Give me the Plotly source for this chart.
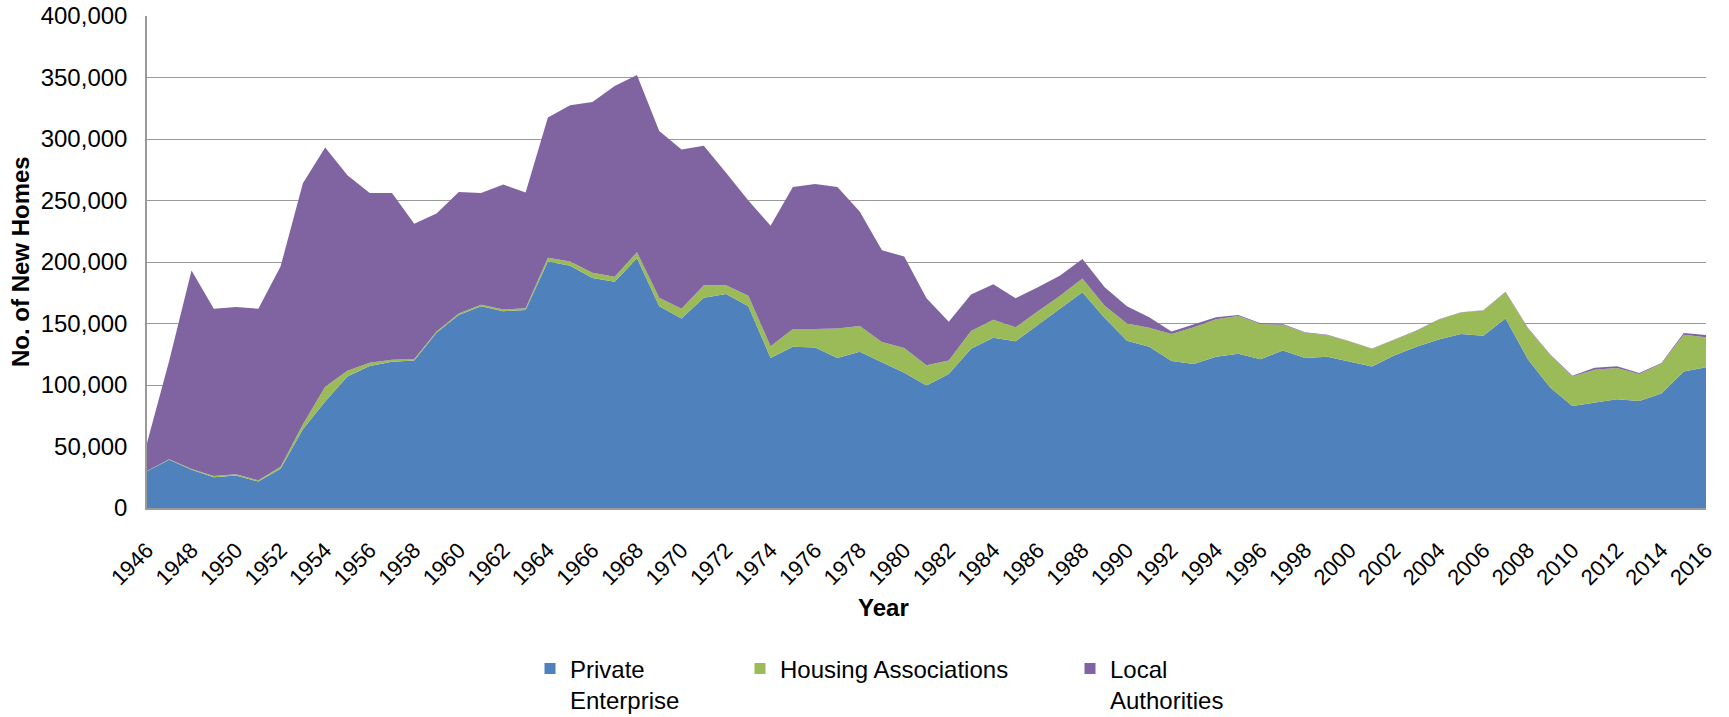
import plotly.graph_objects as go

years = list(range(1946, 2017))

private_enterprise = [
    29800, 39200, 31000, 25000, 26500, 21500, 32000, 64000, 86500, 107000,
    115500, 119000, 120000, 142500, 157000, 164000, 160000, 161000, 200500, 197000,
    187000, 184000, 203000, 164000, 154000, 171000, 174000, 164000, 122000, 131000,
    130500, 122000, 127000, 118500, 110000, 99500, 109000, 129500, 138500, 135500,
    149000, 162500, 175500, 154500, 136000, 131000, 119500, 117000, 123000, 125500,
    121000, 128000, 122000, 123000, 119000, 115000, 124000, 131000, 137000, 141500,
    140000, 154000, 121000, 98000, 83000, 86000, 88500, 87000, 93000, 111000, 114500,
]

housing_associations = [
    300, 500, 800, 1000, 1000, 1000, 1500, 4000, 12000, 4500,
    2500, 1500, 1200, 1000, 1200, 1300, 1300, 1300, 3000, 3500,
    4200, 4000, 5000, 7000, 8000, 10000, 7000, 8500, 9500, 14500,
    15000, 24000, 21000, 16500, 20000, 16500, 11000, 14500, 14500, 11500,
    11000, 10000, 11000, 10000, 14000, 15500, 22000, 30000, 30500, 30500,
    28500, 21000, 20500, 17500, 16300, 14400, 12800, 13000, 16200, 17500,
    20500, 21500, 25000, 26500, 24000, 26500, 25300, 22000, 24300, 29800, 24300,
]

local_authorities = [
    22700, 80300, 161200, 136000, 136000, 139500, 163000, 196000, 194500, 159000,
    138000, 135500, 109800, 96000, 98800, 90700, 101700, 94200, 114000, 127000,
    138800, 155000, 144000, 135500, 129500, 113500, 91500, 77500, 98000, 115500,
    118000, 115000, 93000, 74500, 74500, 54500, 31500, 29500, 29000, 23500,
    19500, 16500, 16000, 15000, 14000, 8500, 2000, 2000, 1500, 1000,
    800, 600, 400, 300, 300, 300, 300, 300, 200, 200,
    300, 300, 500, 500, 500, 1500, 1400, 700, 600, 1500, 1800,
]

series_names = ["Private<br>Enterprise", "Housing Associations", "Local<br>Authorities"]
series_values = [private_enterprise, housing_associations, local_authorities]
series_colors = ["#4F81BD", "#9BBB59", "#8064A2"]
legend_ids = ["legend", "legend2", "legend3"]

tick_years = list(range(1946, 2017, 2))
y_ticks = list(range(0, 400001, 50000))

FONT = "Liberation Sans, Arial, sans-serif"

fig = go.Figure()
for name, vals, col in zip(series_names, series_values, series_colors):
    fig.add_trace(go.Scatter(
        x=years, y=vals, mode="lines", stackgroup="one",
        line=dict(width=0, color=col), fillcolor=col,
        name=name, showlegend=False, hoverinfo="x+y+name",
    ))

# legend swatches
for name, col, lid in zip(series_names, series_colors, legend_ids):
    fig.add_trace(go.Scatter(
        x=[None], y=[None], mode="markers",
        marker=dict(symbol="square", size=11, color=col),
        name=name, showlegend=True, legend=lid,
    ))

W, H = 1729, 717
plot_left, plot_right, plot_top, plot_bottom = 147, 1706, 16, 508  # page px
ml = plot_left
mt = plot_top
mr = W - plot_right
mb = H - plot_bottom
pw = W - ml - mr
ph = H - mt - mb

def px_x(x):
    return (x - ml) / pw

def px_y(y):
    return (plot_bottom - y) / ph

legend_common = dict(
    font=dict(family=FONT, size=24, color="#000000"),
    bgcolor="rgba(0,0,0,0)", borderwidth=0,
    xanchor="left", yanchor="top", valign="top",
    itemwidth=30, itemclick=False, itemdoubleclick=False,
)

LEG_TOP = 646.5

fig.update_layout(
    width=W, height=H,
    margin=dict(l=ml, r=mr, t=mt, b=mb, autoexpand=False),
    paper_bgcolor="white", plot_bgcolor="white",
    font=dict(family=FONT, size=22, color="#000000"),
    showlegend=True,
    legend=dict(x=px_x(530), y=px_y(LEG_TOP), **legend_common),
    legend2=dict(x=px_x(740), y=px_y(LEG_TOP), **legend_common),
    legend3=dict(x=px_x(1070), y=px_y(LEG_TOP), **legend_common),
    xaxis=dict(
        range=[1946, 2016], tickmode="array", tickvals=tick_years,
        ticktext=[str(y) for y in tick_years], tickangle=-45,
        tickfont=dict(family=FONT, size=22, color="#000000"),
        showgrid=False, zeroline=False, showline=True,
        linecolor="#9a9a9a", linewidth=1.5, ticks="",
        ticklabelstandoff=19, automargin=False, ticklabeloverflow="allow",
    ),
    yaxis=dict(
        range=[0, 400000], tickmode="array", tickvals=y_ticks,
        tickformat=",d", tickfont=dict(family=FONT, size=24, color="#000000"),
        showgrid=True, gridcolor="#9a9a9a", gridwidth=1.3,
        zeroline=False, showline=True, linecolor="#9a9a9a", linewidth=1.5,
        ticks="", ticklabelstandoff=13, automargin=False,
        ticklabeloverflow="allow",
    ),
    annotations=[
        dict(text="Year", xref="paper", yref="paper",
             x=px_x(883), y=px_y(607), xanchor="center", yanchor="middle",
             showarrow=False,
             font=dict(family=FONT, size=24, color="#000000", weight="bold")),
        dict(text="No. of New Homes", xref="paper", yref="paper",
             x=px_x(20), y=px_y(262), xanchor="center", yanchor="middle",
             textangle=-90, showarrow=False,
             font=dict(family=FONT, size=24, color="#000000", weight="bold")),
    ],
)

# remove the browser's default 8px body margin so the figure fills the window
fig.write_html(
    "out.html",
    config={"displayModeBar": False},
    post_script="document.body.style.margin='0px';",
)
